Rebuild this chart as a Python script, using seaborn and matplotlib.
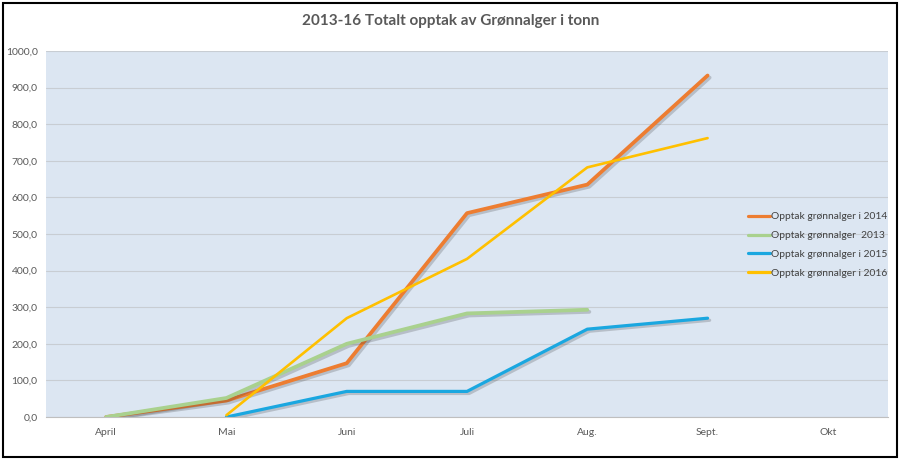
"""
2013-16 Totalt opptak av Grønnalger i tonn
Excel-style line chart recreated with seaborn.
"""

import numpy as np
import pandas as pd
import matplotlib
matplotlib.use("Agg")
import matplotlib.pyplot as plt
import matplotlib.patheffects as pe
from matplotlib.patches import Rectangle
import seaborn as sns

# ---------------------------------------------------------------------------
# Data
# ---------------------------------------------------------------------------
months = ["April", "Mai", "Juni", "Juli", "Aug.", "Sept.", "Okt"]

months_2014 = ["April", "Mai", "Juni", "Juli", "Aug.", "Sept."]
values_2014 = [0.0, 45.0, 147.0, 557.0, 635.0, 933.0]

months_2013 = ["April", "Mai", "Juni", "Juli", "Aug."]
values_2013 = [0.0, 52.0, 200.0, 283.0, 293.0]

months_2015 = ["Mai", "Juni", "Juli", "Aug.", "Sept."]
values_2015 = [0.0, 70.0, 70.0, 240.0, 270.0]

months_2016 = ["Mai", "Juni", "Juli", "Aug.", "Sept."]
values_2016 = [5.0, 270.0, 432.0, 682.0, 762.0]

series_labels = [
    "Opptak grønnalger i 2014",
    "Opptak grønnalger  2013",
    "Opptak grønnalger i 2015",
    "Opptak grønnalger i 2016",
]
series_colors = ["#ED7D31", "#A9D18E", "#1AA7E0", "#FFC000"]
series_widths = [2.7, 2.7, 2.3, 1.9]
series_shadow = [True, True, True, False]

frames = []
for label, m, v in zip(series_labels,
                       [months_2014, months_2013, months_2015, months_2016],
                       [values_2014, values_2013, values_2015, values_2016]):
    frames.append(pd.DataFrame({"month": m, "value": v, "serie": label}))
df = pd.concat(frames, ignore_index=True)
df["pos"] = df["month"].map({m: i for i, m in enumerate(months)})

# ---------------------------------------------------------------------------
# Plot
# ---------------------------------------------------------------------------
sns.set_style("white")
plt.rcParams["font.family"] = ["Lato", "DejaVu Sans"]

fig = plt.figure(figsize=(9.02, 4.61), dpi=100)
ax = fig.add_axes([0.051, 0.0954, 0.9335, 0.794])
ax.set_facecolor("#DCE6F2")

for label, color, lw, shadow in zip(series_labels, series_colors,
                                    series_widths, series_shadow):
    sub = df[df["serie"] == label]
    effects = [pe.Normal()]
    if shadow:
        effects = [pe.SimpleLineShadow(offset=(1.5, -1.5), alpha=0.22,
                                       shadow_color="#333333"), pe.Normal()]
    sns.lineplot(data=sub, x="pos", y="value", color=color, linewidth=lw,
                 label=label, ax=ax, sort=False, estimator=None,
                 path_effects=effects)

ax.set_xlim(-0.5, len(months) - 0.5)
ax.set_ylim(0, 1000)
ax.set_xticks(range(len(months)))
ax.set_xticklabels(months)
ax.set_yticks(np.arange(0, 1001, 100))
ax.set_yticklabels([f"{t:.1f}".replace(".", ",") for t in np.arange(0, 1001, 100)])
ax.set_xlabel("")
ax.set_ylabel("")
ax.grid(axis="y", color="#C8CDD3", linewidth=0.8)
ax.set_axisbelow(True)
ax.tick_params(axis="both", length=0, labelsize=7.5, labelcolor="#595959", pad=8)
ax.tick_params(axis="y", pad=6)
for side in ["top", "right", "left"]:
    ax.spines[side].set_visible(False)
ax.spines["bottom"].set_color("#BFBFBF")

leg = ax.legend(loc="center left", bbox_to_anchor=(0.834, 0.47), frameon=False,
                fontsize=7.4, handlelength=2.1, handletextpad=0.15,
                labelspacing=0.95, borderpad=0, borderaxespad=0,
                labelcolor="#404040")
for line in leg.get_lines():
    line.set_linewidth(2.3)
    line.set_path_effects([pe.Normal()])

fig.text(0.5, 0.955, "2013-16 Totalt opptak av Grønnalger i tonn", ha="center",
         va="center", fontsize=11, fontweight="bold", color="#595959")

# chart frame
fig.patches.append(Rectangle((0.003, 0.008), 0.992, 0.985, transform=fig.transFigure,
                             fill=False, edgecolor="black", linewidth=1.5))

fig.savefig("out.png", dpi=100)
